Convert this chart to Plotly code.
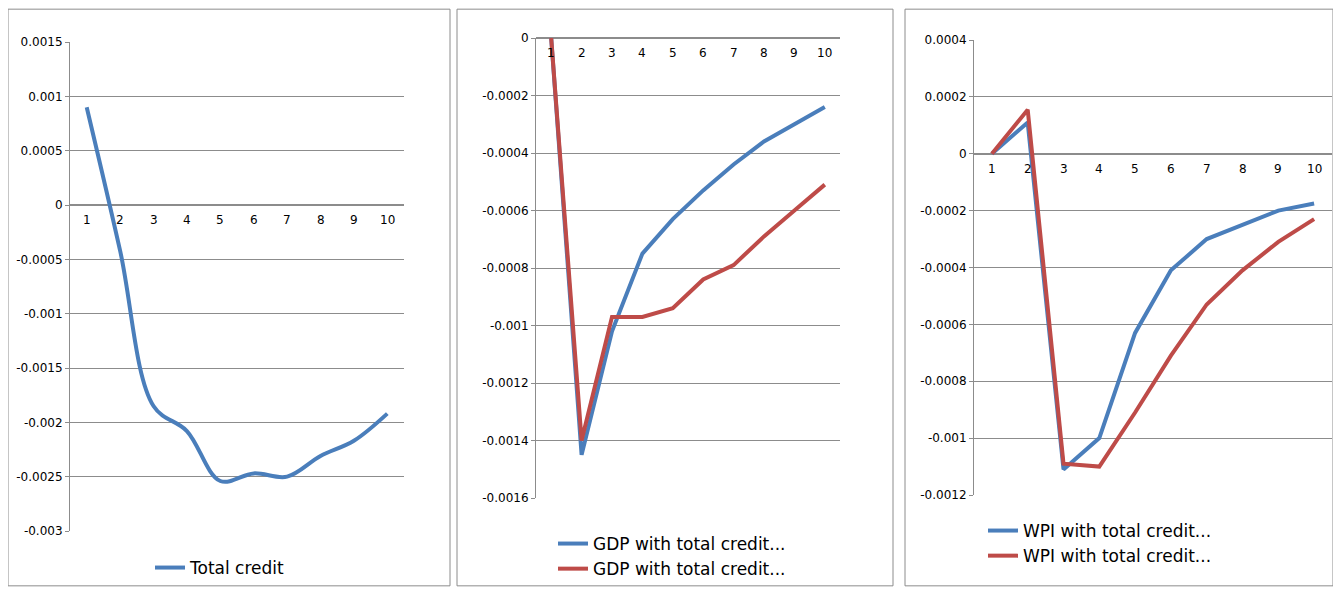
import plotly.graph_objects as go

cats = list(range(1, 11))
total_credit = [0.0009, -0.00042, -0.00185, -0.00208, -0.00254, -0.00247, -0.0025, -0.00231, -0.00217, -0.00192]
gdp_blue = [0, -0.00145, -0.00102, -0.00075, -0.00063, -0.00053, -0.00044, -0.00036, -0.0003, -0.00024]
gdp_red = [0, -0.0014, -0.00097, -0.00097, -0.00094, -0.00084, -0.00079, -0.00069, -0.0006, -0.00051]
wpi_blue = [0, 0.00011, -0.00111, -0.001, -0.00063, -0.00041, -0.0003, -0.00025, -0.0002, -0.000175]
wpi_red = [0, 0.000155, -0.00109, -0.0011, -0.00091, -0.00071, -0.00053, -0.00041, -0.00031, -0.00023]
y1_ticks = [0.0015, 0.001, 0.0005, 0, -0.0005, -0.001, -0.0015, -0.002, -0.0025, -0.003]
y2_ticks = [0, -0.0002, -0.0004, -0.0006, -0.0008, -0.001, -0.0012, -0.0014, -0.0016]
y3_ticks = [0.0004, 0.0002, 0, -0.0002, -0.0004, -0.0006, -0.0008, -0.001, -0.0012]

BLUE = "#4a7ebb"
RED = "#be4b48"
OFF = 8  # page body margin
W, H = 1341 - 2 * OFF, 595 - 2 * OFF
FONT = "DejaVu Sans"

def fmt(v):
    if v == 0:
        return "0"
    return ("%.4f" % v).rstrip("0")

fig = go.Figure()
fig.add_trace(go.Scatter(x=cats, y=total_credit, mode="lines", name="Total credit",
                         line=dict(color=BLUE, width=4, shape="spline"), xaxis="x", yaxis="y", legend="legend"))
fig.add_trace(go.Scatter(x=cats, y=gdp_blue, mode="lines", name="GDP with total credit...",
                         line=dict(color=BLUE, width=4), xaxis="x2", yaxis="y2", legend="legend2"))
fig.add_trace(go.Scatter(x=cats, y=gdp_red, mode="lines", name="GDP with total credit...",
                         line=dict(color=RED, width=4), xaxis="x2", yaxis="y2", legend="legend2"))
fig.add_trace(go.Scatter(x=cats, y=wpi_blue, mode="lines", name="WPI with total credit...",
                         line=dict(color=BLUE, width=4), xaxis="x3", yaxis="y3", legend="legend3"))
fig.add_trace(go.Scatter(x=cats, y=wpi_red, mode="lines", name="WPI with total credit...",
                         line=dict(color=RED, width=4), xaxis="x3", yaxis="y3", legend="legend3"))

def fx(a):
    return min(max((a - OFF) / W, 0), 1)

def fy(a):
    return min(max(1 - (a - OFF) / H, 0), 1)

def px(a, b):
    return [fx(a), fx(b)]

def py(top, bot):
    return [fy(bot), fy(top)]

xd = [px(70, 404), px(536, 840), px(974, 1332)]
yd = [py(42, 531), py(38, 498), py(40, 495)]
yt = [y1_ticks, y2_ticks, y3_ticks]
yr = [[-0.003, 0.0015], [-0.0016, 0], [-0.0012, 0.0004]]

layout = dict(width=W, height=H, margin=dict(l=0, r=0, t=0, b=0, autoexpand=False),
              paper_bgcolor="white", plot_bgcolor="white", showlegend=True,
              font=dict(family=FONT, size=12, color="black"))
annotations = []
for i in range(3):
    sx = "" if i == 0 else str(i + 1)
    layout["xaxis" + sx] = dict(domain=xd[i], range=[0.5, 10.5], showticklabels=False,
                                showgrid=False, zeroline=False, anchor="y" + sx, fixedrange=True)
    layout["yaxis" + sx] = dict(domain=yd[i], range=yr[i], tickvals=yt[i],
                                ticktext=[fmt(v) for v in yt[i]], showgrid=True, gridcolor="#8c8c8c",
                                gridwidth=1, zeroline=True, zerolinecolor="#8c8c8c", showline=True,
                                linecolor="#8c8c8c", anchor="x" + sx, ticks="outside", ticklen=4,
                                tickcolor="#8c8c8c", tickfont=dict(size=12, family=FONT), fixedrange=True)
    for c in cats:
        annotations.append(dict(x=c, y=0, xref="x" + sx, yref="y" + sx, text=str(c), showarrow=False,
                                yshift=-15, font=dict(size=12, family=FONT)))

layout["legend"] = dict(x=fx(150), y=fy(586), xanchor="left", yanchor="bottom",
                        font=dict(size=17, family=FONT), bgcolor="rgba(0,0,0,0)")
layout["legend2"] = dict(x=fx(553), y=fy(590), xanchor="left", yanchor="bottom",
                         font=dict(size=17, family=FONT), bgcolor="rgba(0,0,0,0)", tracegroupgap=0)
layout["legend3"] = dict(x=fx(983), y=fy(574), xanchor="left", yanchor="bottom",
                         font=dict(size=17, family=FONT), bgcolor="rgba(0,0,0,0)", tracegroupgap=0)

shapes = []
for a, b in [(2, 450), (457, 893), (905, 1336)]:
    shapes.append(dict(type="rect", xref="paper", yref="paper", x0=fx(a), x1=fx(b),
                       y0=0.002, y1=0.998, line=dict(color="#8c8c8c", width=1)))
layout["shapes"] = shapes
layout["annotations"] = annotations
fig.update_layout(**layout)
fig.write_html("out.html")
